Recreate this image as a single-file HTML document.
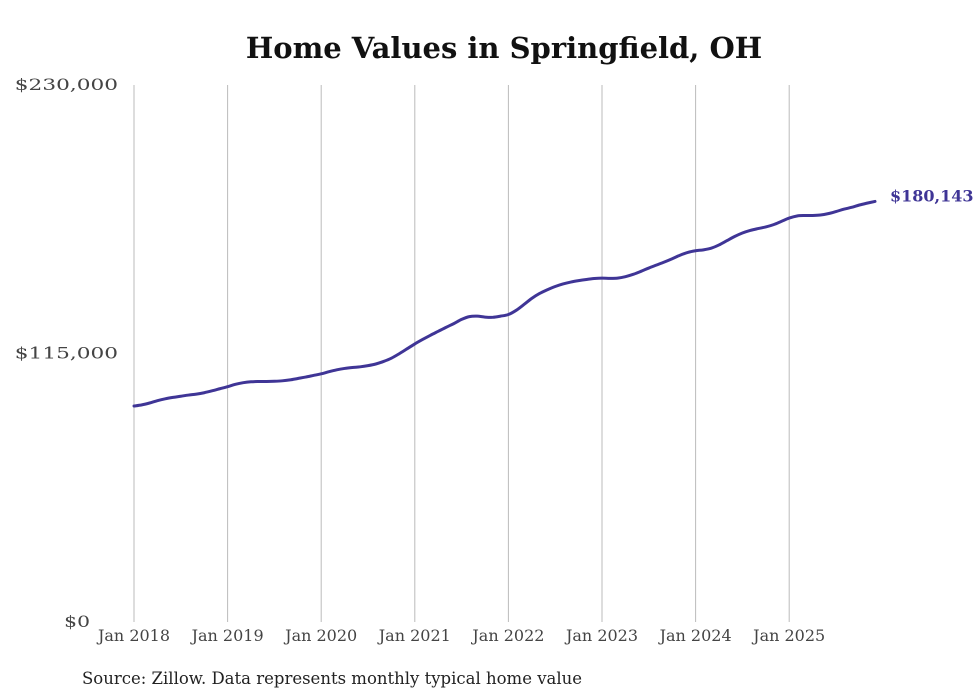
<!DOCTYPE html>
<html><head><meta charset="utf-8"><style>
html,body{margin:0;padding:0;background:#fff;}
svg{display:block;font-family:"DejaVu Serif","Liberation Serif",serif;}
</style></head><body>
<svg id="chart" width="980" height="699">
<text x="504" y="58" text-anchor="middle" font-size="29" font-weight="bold" fill="#111">Home Values in Springfield, OH</text>
<g id="grid"></g><g id="yaxis"></g><g id="xaxis"></g><g id="series"></g>
<text x="82" y="684" font-size="16.5" fill="#222">Source: Zillow. Data represents monthly typical home value</text>
</svg>
<script>
const yTicks=[0,115000,230000];
const yTickLabels=["$0","$115,000","$230,000"];
const xTickLabels=["Jan 2018","Jan 2019","Jan 2020","Jan 2021","Jan 2022","Jan 2023","Jan 2024","Jan 2025"];
const startYear=2018;
const values=[92.5,93.0,93.8,94.8,95.6,96.2,96.7,97.2,97.6,98.2,99.0,99.9,
100.8,101.8,102.5,102.9,103.0,103.0,103.1,103.3,103.7,104.3,104.9,105.6,
106.3,107.2,108.0,108.6,109.0,109.3,109.8,110.5,111.6,113.0,114.9,117.0,
119.1,121.0,122.8,124.5,126.2,127.8,129.6,130.8,131.0,130.6,130.5,131.0,
131.7,133.5,136.0,138.6,140.7,142.3,143.7,144.8,145.6,146.2,146.7,147.1,
147.3,147.2,147.3,147.9,148.9,150.2,151.6,152.9,154.2,155.6,157.1,158.3,
159.0,159.4,160.1,161.5,163.3,165.1,166.6,167.7,168.5,169.2,170.2,171.6,
173.0,173.9,174.1,174.1,174.3,174.9,175.8,176.8,177.6,178.6,179.4,180.143];
const lastLabel="$180,143";
const NS="http://www.w3.org/2000/svg";
const x0=134,yearW=93.6,yTop=85,yBot=622,yMax=230000;
const xs=m=>x0+m*yearW/12;
const ys=v=>yBot-v/yMax*(yBot-yTop);
function mk(t,a,p){const e=document.createElementNS(NS,t);for(const k in a)e.setAttribute(k,a[k]);p.appendChild(e);return e;}
const grid=document.getElementById('grid'),xa=document.getElementById('xaxis'),ya=document.getElementById('yaxis'),se=document.getElementById('series');
xTickLabels.forEach((l,i)=>{
 const x=xs(i*12);
 const g=mk('line',{x1:x,x2:x,y1:yTop,y2:yBot,stroke:'#bbb','stroke-width':1},grid);
 
 
 const t=mk('text',{x:x,y:641,'text-anchor':'middle','font-size':16,fill:'#444'},xa);
 t.textContent=l;
 
 
});
yTicks.forEach((v,i)=>{
 const lbl=yTickLabels[i];
 const w=lbl.length*12.9;
 const endX=v===0?90:118;
 const t=mk('text',{x:endX-w,y:ys(v)+5,'font-size':16,textLength:w,lengthAdjust:'spacingAndGlyphs',fill:'#444'},ya);
 t.textContent=lbl;
 
 
});
const pts=values.map((v,i)=>[xs(i),ys(v*1000)]);
let d='M'+pts[0][0]+','+pts[0][1];
for(let i=0;i<pts.length-1;i++){
 const p0=pts[Math.max(0,i-1)],p1=pts[i],p2=pts[i+1],p3=pts[Math.min(pts.length-1,i+2)];
 d+=' C'+(p1[0]+(p2[0]-p0[0])/6)+','+(p1[1]+(p2[1]-p0[1])/6)+' '+(p2[0]-(p3[0]-p1[0])/6)+','+(p2[1]-(p3[1]-p1[1])/6)+' '+p2[0]+','+p2[1];
}
const path=mk('path',{d:d,fill:'none',stroke:'#3f3596','stroke-width':3,'stroke-linejoin':'round','stroke-linecap':'round'},se);


const lp=pts[pts.length-1];
const lt=mk('text',{x:lp[0]+15,y:lp[1],'font-size':16,'font-weight':'bold',fill:'#3f3596'},se);
lt.textContent=lastLabel;


</script>
</body></html>
